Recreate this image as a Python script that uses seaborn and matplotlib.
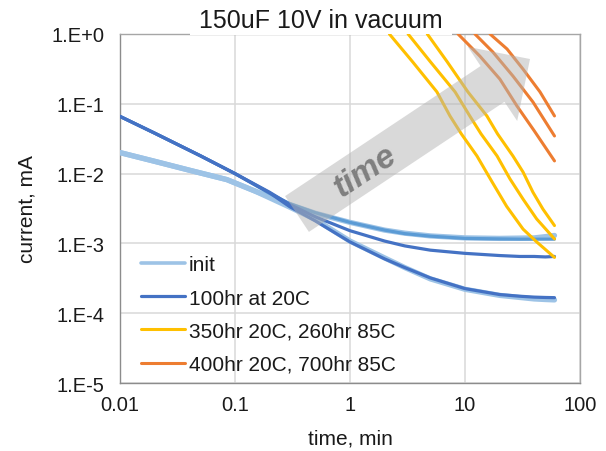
import numpy as np
import pandas as pd
import seaborn as sns
import matplotlib
matplotlib.use("Agg")
import matplotlib.pyplot as plt
from matplotlib.ticker import LogLocator, FuncFormatter, NullFormatter, FixedLocator
from matplotlib.patches import Polygon, Rectangle

# ---- leakage current (mA) vs time (min), 150uF 10V parts in vacuum ----
# initial measurement, two parts
t_init = [0.01, 0.02, 0.04, 0.085, 0.15, 0.3, 0.5, 1, 2, 3, 5, 10, 20, 40, 50, 60]
init_a = [2.0e-2, 1.5e-2, 1.12e-2, 8.2e-3, 5.6e-3, 3.6e-3, 2.7e-3, 2.0e-3, 1.55e-3,
          1.4e-3, 1.28e-3, 1.2e-3, 1.18e-3, 1.2e-3, 1.25e-3, 1.3e-3]
init_b = [2.0e-2, 1.5e-2, 1.12e-2, 8.2e-3, 5.6e-3, 3.3e-3, 2.2e-3, 1.08e-3, 6.2e-4,
          4.5e-4, 3.1e-4, 2.2e-4, 1.8e-4, 1.6e-4, 1.57e-4, 1.55e-4]

# after 100 hr at 20C, three parts
t_100hr = [0.01, 0.02, 0.05, 0.1, 0.2, 0.3, 0.5, 1, 2, 3, 5, 10, 20, 30, 40, 50, 60]
hr100_a = [6.6e-2, 3.8e-2, 1.8e-2, 1.0e-2, 5.4e-3, 3.6e-3, 2.4e-3, 1.52e-3, 1.08e-3,
           9.2e-4, 8.0e-4, 7.2e-4, 6.7e-4, 6.5e-4, 6.5e-4, 6.4e-4, 6.5e-4]
hr100_b = [6.6e-2, 3.8e-2, 1.8e-2, 1.0e-2, 5.3e-3, 3.35e-3, 2.1e-3, 1.05e-3, 6.0e-4,
           4.5e-4, 3.2e-4, 2.25e-4, 1.85e-4, 1.75e-4, 1.7e-4, 1.68e-4, 1.67e-4]
hr100_c = [6.6e-2, 3.8e-2, 1.8e-2, 1.0e-2, 5.2e-3, 3.7e-3, 2.75e-3, 2.0e-3, 1.55e-3,
           1.38e-3, 1.27e-3, 1.18e-3, 1.16e-3, 1.15e-3, 1.15e-3, 1.15e-3, 1.15e-3]

# after 350 hr at 20C + 260 hr at 85C, three parts
t_350_a = [2.2, 3.5, 5.7, 7.4, 9.3, 12.7, 17.2, 23, 32, 42, 60]
i_350_a = [1.0, 0.40, 0.148, 0.067, 0.037, 0.0179, 7.6e-3, 3.4e-3, 1.6e-3, 1.05e-3, 6.3e-4]
t_350_b = [3.2, 5.0, 8.2, 11.0, 13.8, 19.0, 24.6, 32, 42, 60]
i_350_b = [1.0, 0.40, 0.148, 0.067, 0.037, 0.0179, 8.4e-3, 4.3e-3, 2.24e-3, 1.16e-3]
t_350_c = [4.7, 7.0, 10.6, 15.5, 19.2, 26.1, 32, 39, 47.6, 60]
i_350_c = [1.0, 0.40, 0.148, 0.067, 0.037, 0.0179, 0.0105, 5.4e-3, 3.1e-3, 1.8e-3]

# after 400 hr at 20C + 700 hr at 85C, three parts
t_400_a = [8.7, 13.5, 20.1, 28.3, 40, 60]
i_400_a = [1.0, 0.48, 0.226, 0.093, 0.041, 0.0152]
t_400_b = [12.2, 17.5, 26.1, 39.0, 60]
i_400_b = [1.0, 0.55, 0.25, 0.106, 0.0346]
t_400_c = [16.5, 23.2, 31.9, 44.9, 60]
i_400_c = [1.0, 0.61, 0.315, 0.148, 0.067]

labels = ["init", "100hr at 20C", "350hr 20C, 260hr 85C", "400hr 20C, 700hr 85C"]
x_ticks = [0.01, 0.1, 1, 10, 100]
x_ticklabels = ["0.01", "0.1", "1", "10", "100"]
y_ticks = [1e-5, 1e-4, 1e-3, 1e-2, 1e-1, 1e0]

C_INIT, C_100, C_100B = "#9DC3E6", "#4472C4", "#5B9BD5"
C_350, C_400 = "#FFC000", "#ED7D31"

sns.set_style("white")
plt.rcParams["font.family"] = ["Liberation Sans", "DejaVu Sans"]

W, H = 606, 452
fig = plt.figure(figsize=(W / 100, H / 100), dpi=100)
ax = fig.add_axes([120 / W, 1 - 384 / H, 460 / W, 349 / H])
ax.set_xscale("log")
ax.set_yscale("log")


def trace(t, i, color, lw, label=None):
    sns.lineplot(x=t, y=i, ax=ax, color=color, lw=lw, label=label,
                 estimator=None, sort=False, zorder=4)


trace(t_init, init_a, C_INIT, 3.8, labels[0])
trace(t_init, init_b, C_INIT, 3.8)
trace(t_100hr, hr100_c, C_100B, 2.3)
trace(t_100hr, hr100_a, C_100, 2.3, labels[1])
trace(t_100hr, hr100_b, C_100, 2.3)
trace(t_350_a, i_350_a, C_350, 2.2, labels[2])
trace(t_350_b, i_350_b, C_350, 2.2)
trace(t_350_c, i_350_c, C_350, 2.2)
trace(t_400_a, i_400_a, C_400, 2.2, labels[3])
trace(t_400_b, i_400_b, C_400, 2.2)
trace(t_400_c, i_400_c, C_400, 2.2)

ax.set_xlim(0.01, 100)
ax.set_ylim(1e-5, 1)

# ticks, grid and frame
ax.xaxis.set_major_locator(FixedLocator(x_ticks))
ax.xaxis.set_major_formatter(FuncFormatter(lambda v, p: x_ticklabels[x_ticks.index(v)] if v in x_ticks else ""))
ax.yaxis.set_major_locator(FixedLocator(y_ticks))
ax.yaxis.set_major_formatter(FuncFormatter(lambda v, p: "1.E{:+d}".format(int(round(np.log10(v)))).replace("+-", "-")))
for axis in (ax.xaxis, ax.yaxis):
    axis.set_minor_locator(LogLocator(base=10, subs=np.arange(2, 10), numticks=20))
    axis.set_minor_formatter(NullFormatter())
ax.tick_params(which="both", direction="in", color="#8C8C8C", width=0.8)
ax.tick_params(which="major", length=4.5, labelsize=14.5, labelcolor="#1A1A1A")
ax.tick_params(which="minor", length=3.2)
ax.tick_params(axis="x", pad=9)
ax.tick_params(axis="y", pad=11)
ax.grid(True, which="major", color="#D9D9D9", lw=1.1)
ax.set_axisbelow(True)
for side in ("left", "bottom", "top", "right"):
    ax.spines[side].set_color("#8C8C8C")
    ax.spines[side].set_linewidth(1.0)
for side in ("top", "right"):
    ax.spines[side].set_color("#A6A6A6")

ax.set_xlabel("time, min", fontsize=15, color="#1A1A1A", labelpad=10)
ax.set_ylabel("current, mA", fontsize=15, color="#1A1A1A", labelpad=11)

# title with a white box that breaks the top border
ax.add_patch(Rectangle((0.152, 0.997), 0.57, 0.1, transform=ax.transAxes,
                       fc="white", ec="none", clip_on=False, zorder=3))
ax.text(0.437, 1.020, "150uF 10V in vacuum", transform=ax.transAxes,
        ha="center", va="baseline", fontsize=18, color="#1A1A1A", zorder=3.5,
        clip_on=False)

# translucent "time" block arrow (built in pixel units)
tail = np.array([297.0, 215.0])
tip = np.array([530.0, 60.0])
u = (tip - tail) / np.linalg.norm(tip - tail)
n = np.array([-u[1], u[0]])
body_hw, head_hw, head_len = 21.5, 44.5, 45.0
base = tip - head_len * u
pts_px = [tail - body_hw * n, base - body_hw * n, base - head_hw * n, tip,
          base + head_hw * n, base + body_hw * n, tail + body_hw * n]
pts_in = [(p[0] / 100, (H - p[1]) / 100) for p in pts_px]
ax.add_patch(Polygon(pts_in, closed=True, transform=fig.dpi_scale_trans,
                     fc="#B4B4B4", ec="none", alpha=0.5, zorder=5, clip_on=False))
ang = np.degrees(np.arctan2(-(tip - tail)[1], (tip - tail)[0]))
ax.text((365 - 120) / 460, (384 - 172) / 349, "time", transform=ax.transAxes,
        rotation=ang, rotation_mode="anchor", ha="center", va="center",
        fontsize=24, fontweight="bold", fontstyle="italic", color="#7F7F7F", zorder=6)

leg = ax.legend(loc="lower left", bbox_to_anchor=(0.046, 0.026), frameon=False,
                fontsize=15, handlelength=2.1, handletextpad=0.2, labelspacing=0.68,
                borderpad=0, borderaxespad=0)
for txt in leg.get_texts():
    txt.set_color("#1A1A1A")
for h in leg.get_lines():
    h.set_linewidth(min(h.get_linewidth(), 2.6))

fig.savefig("out.png", dpi=100)
